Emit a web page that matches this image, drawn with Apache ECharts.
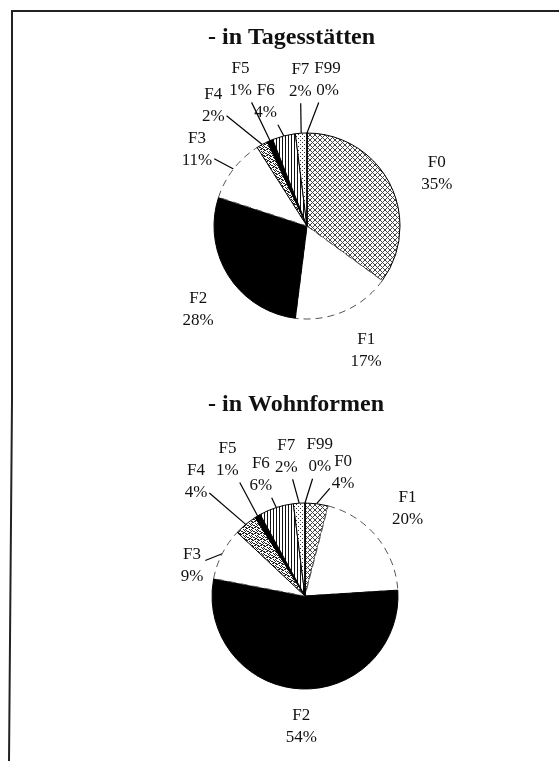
<!DOCTYPE html>
<html>
<head>
<meta charset="utf-8">
<script src="https://cdn.jsdelivr.net/npm/echarts@6/dist/echarts.min.js"></script>
<style>
html, body { margin: 0; padding: 0; background: #fff; }
#chart { width: 559px; height: 761px; }
</style>
</head>
<body>
<div id="chart"></div>
<script>
// Diagnosegruppen und Anteile in %
var categories = ['F0', 'F1', 'F2', 'F3', 'F4', 'F5', 'F6', 'F7', 'F99'];
var tagesValues = [35, 17, 28, 11, 2, 1, 4, 2, 0];
var wohnValues = [4, 20, 54, 9, 4, 1, 6, 2, 0];
var titles = ['- in Tagesstätten', '- in Wohnformen'];

// Füllmuster (Schraffuren) als Canvas-Kacheln
function makePattern(w, h, ink, pixels) {
  var c = document.createElement('canvas');
  c.width = w; c.height = h;
  var ctx = c.getContext('2d');
  ctx.fillStyle = '#fff';
  ctx.fillRect(0, 0, w, h);
  ctx.fillStyle = ink;
  pixels.forEach(function (p) { ctx.fillRect(p[0], p[1], 1, 1); });
  return { image: c, repeat: 'repeat' };
}
var hatch = makePattern(5, 5, '#444', [[0,0],[1,1],[2,2],[3,3],[4,4],[4,0],[3,1],[1,3],[0,4]]);
var stipple = makePattern(6, 6, '#222', [[0,0],[1,0],[3,1],[5,1],[4,2],[0,2],[1,3],[2,3],[5,3],[4,4],[3,4],[0,5],[2,5],[3,5],[5,5]]);
var stripes = makePattern(3, 1, '#111', [[0,0]]);
var dots = makePattern(4, 4, '#333', [[0,0],[2,2]]);

var solid = { borderColor: '#000', borderWidth: 1 };
var open = { color: '#fff', borderColor: '#555', borderWidth: 1, borderType: [7, 5] };
var fills = {
  F0: Object.assign({ color: hatch }, solid),
  F1: open,
  F2: Object.assign({ color: '#000' }, solid),
  F3: open,
  F4: Object.assign({ color: stipple }, solid),
  F5: Object.assign({ color: '#000' }, solid),
  F6: Object.assign({ color: stripes }, solid),
  F7: Object.assign({ color: dots }, solid),
  F99: Object.assign({ color: '#fff' }, solid)
};

// Beschriftungs-Platzierung: Winkelversatz (Grad), Abstand vom Mittelpunkt, Führungslinie ja/nein
var pies = [
  { center: [307, 226], values: tagesValues,
    shift: [5, -2, -5, -3, -9, -1, -4, 1, 8],
    dist: [140, 138, 137, 134, 153, 161, 131, 146, 148],
    lined: [0, 0, 0, 1, 1, 1, 1, 1, 1] },
  { center: [305, 596], values: wohnValues,
    shift: [10, -1, -2, -12, -4, 1, -2, -4, 6],
    dist: [129, 135, 131, 117, 158, 157, 129, 141, 141],
    lined: [1, 0, 0, 1, 1, 1, 1, 1, 1] }
];

function placeLabels(pie) {
  return function (params) {
    var i = params.dataIndex;
    var c = pie.center;
    var p0 = params.labelLinePoints[0];
    var th = Math.atan2(p0[0] - c[0], c[1] - p0[1]) + pie.shift[i] * Math.PI / 180;
    var x = c[0] + pie.dist[i] * Math.sin(th);
    var y = c[1] - pie.dist[i] * Math.cos(th);
    var pts;
    if (pie.lined[i]) {
      var hw = params.labelRect.width / 2 + 2, hh = params.labelRect.height / 2 + 1;
      var vx = p0[0] - x, vy = p0[1] - y;
      var t = Math.min(hw / Math.max(Math.abs(vx), 1e-6), hh / Math.max(Math.abs(vy), 1e-6));
      var a = [x + vx * t, y + vy * t];
      pts = [p0.slice(), a, a.slice()];
    } else {
      pts = [p0.slice(), p0.slice(), p0.slice()];
    }
    return { x: x, y: y, align: 'center', verticalAlign: 'middle', labelLinePoints: pts };
  };
}

var chart = echarts.init(document.getElementById('chart'));

chart.setOption({
  animation: false,
  backgroundColor: '#fff',
  title: [
    { text: titles[0], left: 208, top: 26, padding: 0,
      textStyle: { fontFamily: 'Liberation Serif', fontWeight: 'bold', fontSize: 24, color: '#111' } },
    { text: titles[1], left: 208, top: 393, padding: 0,
      textStyle: { fontFamily: 'Liberation Serif', fontWeight: 'bold', fontSize: 24, color: '#111' } }
  ],
  graphic: [
    { type: 'polyline', silent: true,
      shape: { points: [[559, 11], [12, 11], [12, 400], [9, 761]] },
      style: { stroke: '#222', lineWidth: 2, fill: 'none' } }
  ],
  series: pies.map(function (pie) {
    return {
      type: 'pie',
      center: pie.center,
      radius: 93,
      startAngle: 90,
      clockwise: true,
      avoidLabelOverlap: false,
      emphasis: { disabled: true },
      label: {
        show: true,
        position: 'outside',
        formatter: '{b}\n{c}%',
        fontFamily: 'Liberation Serif',
        fontSize: 17,
        lineHeight: 22,
        color: '#111'
      },
      labelLine: { show: true, length: 10, length2: 0, lineStyle: { color: '#000', width: 1.2 } },
      labelLayout: placeLabels(pie),
      data: categories.map(function (name, i) {
        return { name: name, value: pie.values[i], itemStyle: fills[name] };
      })
    };
  })
});
</script>
</body>
</html>
